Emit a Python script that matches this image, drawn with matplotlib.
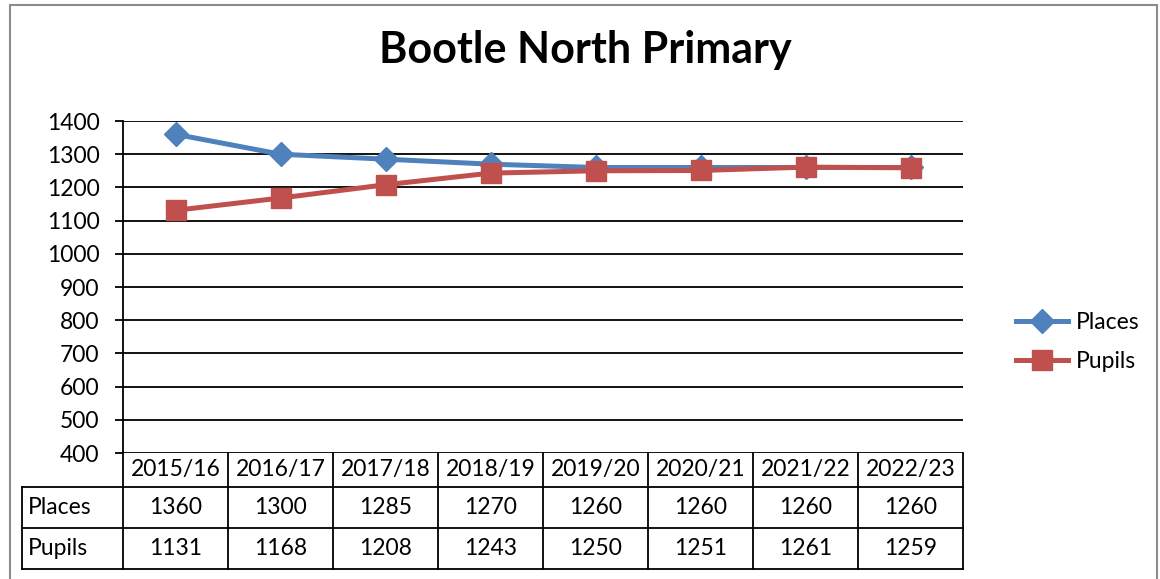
import numpy as np
import matplotlib.pyplot as plt
from matplotlib.patches import Rectangle

# chart data
years = ['2015/16', '2016/17', '2017/18', '2018/19', '2019/20', '2020/21', '2021/22', '2022/23']
places = [1360, 1300, 1285, 1270, 1260, 1260, 1260, 1260]
pupils = [1131, 1168, 1208, 1243, 1250, 1251, 1261, 1259]
yticks = list(range(400, 1401, 100))

blue = '#4F81BD'
red = '#C0504D'
plt.rcParams['font.family'] = ['Lato', 'DejaVu Sans']

W, H = 1160, 579
fig = plt.figure(figsize=(W / 100, H / 100), dpi=100)

# outer chart border
fig.patches.append(Rectangle((10 / W, -0.05), 1147 / W, 1.05 - 5 / H, transform=fig.transFigure,
                             fill=False, edgecolor='#8c8c8c', linewidth=1.5))

ax = fig.add_axes([123 / W, (H - 453) / H, 840 / W, 332 / H])
x = np.arange(len(years))

for v in yticks:
    ax.axhline(v, color='black', linewidth=1.3, zorder=1)

ax.plot(x, places, color=blue, linewidth=3.6, marker='D', markersize=12, label='Places', zorder=3)
ax.plot(x, pupils, color=red, linewidth=3.6, marker='s', markersize=14, label='Pupils', zorder=3)

ax.set_xlim(-0.5, len(years) - 0.5)
ax.set_ylim(400, 1400)
ax.set_yticks(yticks)
ax.set_xticks([])
ax.tick_params(axis='y', length=6, width=1.3, labelsize=16.5, pad=11)
for s in ['top', 'right', 'bottom']:
    ax.spines[s].set_visible(False)
ax.spines['left'].set_linewidth(1.3)

# data table under the plot
trans = ax.get_xaxis_transform()
rows = [0.0, -0.102, -0.226, -0.349]
left_edge = -1.462
fs = 16.5
kw = dict(color='black', linewidth=1.3, transform=trans, clip_on=False)
# header row
ax.plot([-0.5, len(years) - 0.5], [rows[1]] * 2, **kw)
for i in range(len(years) + 1):
    ax.plot([i - 0.5] * 2, [rows[0], rows[3]], **kw)
for i, yr in enumerate(years):
    ax.text(i, (rows[0] + rows[1]) / 2, yr, transform=trans, ha='center', va='center', fontsize=fs)
# body rows
for r in [2, 3]:
    ax.plot([left_edge, len(years) - 0.5], [rows[r]] * 2, **kw)
ax.plot([left_edge] * 2, [rows[1], rows[3]], **kw)
ax.plot([left_edge, -0.5], [rows[1]] * 2, **kw)
for r, (name, vals) in enumerate([('Places', places), ('Pupils', pupils)]):
    yc = (rows[r + 1] + rows[r + 2]) / 2
    ax.text(left_edge + 0.06, yc, name, transform=trans, ha='left', va='center', fontsize=fs)
    for i, v in enumerate(vals):
        ax.text(i, yc, str(v), transform=trans, ha='center', va='center', fontsize=fs)

fig.text(585 / W, 1 - 50 / H, 'Bootle North Primary', ha='center', va='center',
         fontsize=31, fontweight='bold')

fig.legend(loc='center left', bbox_to_anchor=(995 / W, 1 - 342 / H), frameon=False,
           fontsize=16.5, handlelength=2.3, labelspacing=0.8, handletextpad=0.35)

fig.savefig('out.png', dpi=100)
